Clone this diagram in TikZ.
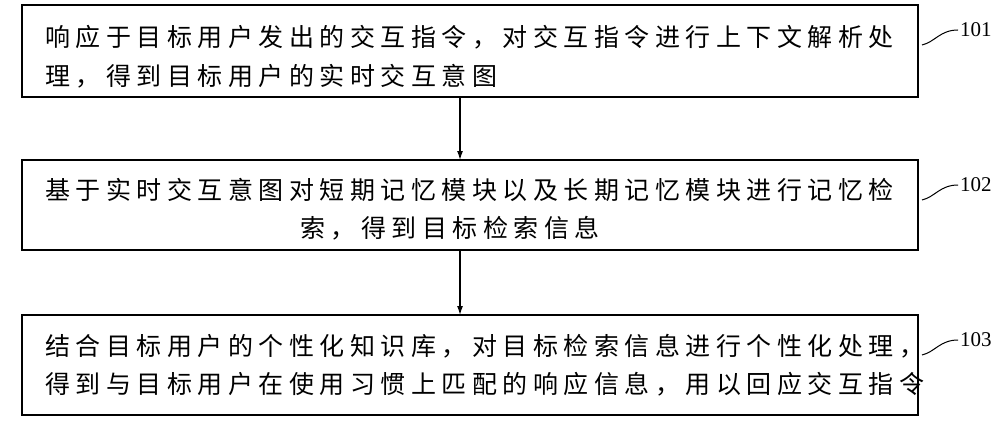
\documentclass[tikz,border=0pt]{standalone}
\usepackage{fontspec}
\usetikzlibrary{arrows.meta}
\setmainfont{Liberation Serif}
\newfontfamily\cjk[LetterSpace=22]{Noto Sans CJK SC}
\begin{document}
\begin{tikzpicture}[x=1pt,y=-1pt,
  box/.style={draw,line width=1.2pt},
  txt/.style={anchor=west,inner sep=0pt,font=\cjk\fontsize{25}{25}\selectfont},
  lab/.style={anchor=west,inner sep=0pt,font=\fontsize{21}{21}\selectfont},
  arr/.style={-{Latex[length=9pt,width=6pt]},line width=1.2pt}]
\useasboundingbox (0,0) rectangle (1000,425);
\draw[box] (22,5) rectangle (918,97);
\draw[box] (22,160) rectangle (918,250);
\draw[box] (22,315) rectangle (918,415);
\coordinate (b1) at (460,97); \coordinate (t2) at (460,160);
\coordinate (b2) at (460,250); \coordinate (t3) at (460,315);
\draw[arr] (b1) -- (t2);
\draw[arr] (b2) -- (t3);
\node[txt] (l1) at (45,37) {响应于目标用户发出的交互指令，对交互指令进行上下文解析处};
\node[txt] (l2) at (45,76) {理，得到目标用户的实时交互意图};
\node[txt] (l3) at (45,190) {基于实时交互意图对短期记忆模块以及长期记忆模块进行记忆检};
\node[txt] (l4) at (300,228) {索，得到目标检索信息};
\node[txt] (l5) at (45,346) {结合目标用户的个性化知识库，对目标检索信息进行个性化处理，};
\node[txt] (l6) at (45,384) {得到与目标用户在使用习惯上匹配的响应信息，用以回应交互指令};
\node[lab] (n1) at (960,30) {101};
\node[lab] (n2) at (960,185) {102};
\node[lab] (n3) at (960,340) {103};
\foreach \y in {30,185,340}{
  \draw[line width=1pt] (922,\y+15) .. controls (935,\y+12) and (940,\y) .. (958,\y);
}
\end{tikzpicture}
\end{document}
